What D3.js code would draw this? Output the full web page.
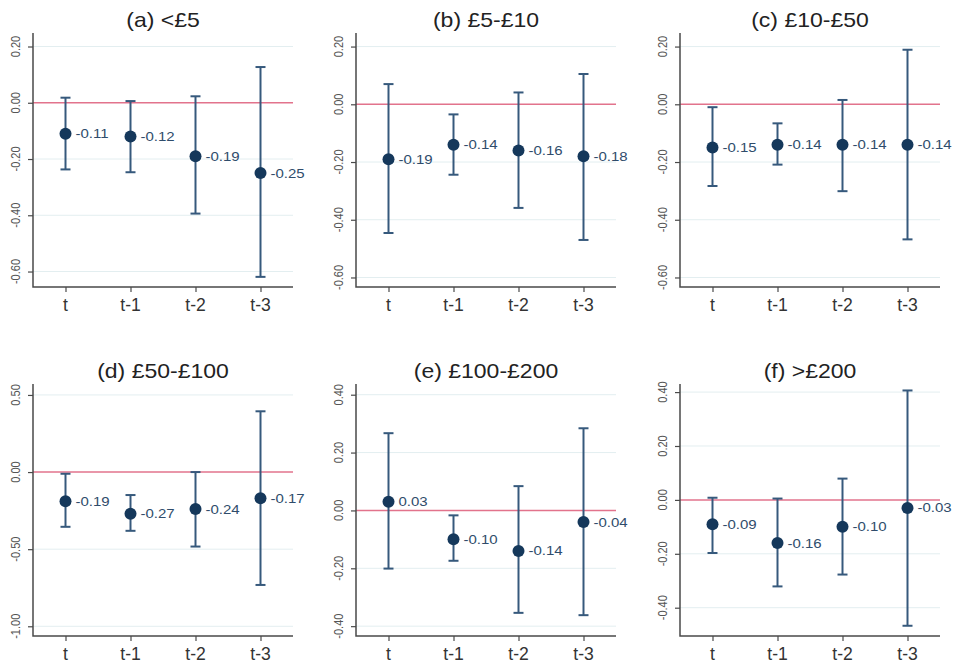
<!DOCTYPE html>
<meta charset="utf-8">
<head>
  <title>Coefficient plots by amount band</title>
</head>
<body>
<style>
  html, body {
    margin: 0;
    padding: 0;
    background: #fff;
  }
  svg text {
    font-family: "Liberation Sans", Arial, sans-serif;
  }
  .grid line {
    stroke: #e3eef0;
    stroke-width: 1px;
  }
  .zero {
    stroke: #e2738c;
    stroke-width: 1.5px;
  }
  .axis-line {
    stroke: #4a4a4a;
    stroke-width: 1.5px;
  }
  .bar {
    stroke: #36597c;
    stroke-width: 2px;
  }
  .dot {
    fill: #15385b;
  }
  .value {
    fill: #2f4c6b;
    font-size: 12.5px;
  }
  .title {
    fill: #222;
    font-size: 20px;
  }
  .xlabel {
    fill: #333;
    font-size: 16px;
  }
  .ylabel {
    fill: #555;
    font-size: 11px;
  }
</style>
<div id="chart"></div>
<script src="https://cdn.jsdelivr.net/npm/d3@7"></script>
<script>

(function() {

var categories = ["t", "t-1", "t-2", "t-3"];

var titles = ["(a) <£5", "(b) £5-£10", "(c) £10-£50",
              "(d) £50-£100", "(e) £100-£200", "(f) >£200"];

// point estimates, one array per panel
var estimates = [
  [-0.11, -0.12, -0.19, -0.25],
  [-0.19, -0.14, -0.16, -0.18],
  [-0.15, -0.14, -0.14, -0.14],
  [-0.19, -0.27, -0.24, -0.17],
  [0.03, -0.10, -0.14, -0.04],
  [-0.09, -0.16, -0.10, -0.03]
];

// lower and upper confidence bounds
var lower = [
  [-0.237, -0.247, -0.394, -0.619],
  [-0.446, -0.244, -0.359, -0.470],
  [-0.283, -0.209, -0.301, -0.468],
  [-0.355, -0.381, -0.483, -0.732],
  [-0.201, -0.174, -0.354, -0.362],
  [-0.197, -0.321, -0.277, -0.467]
];

var upper = [
  [0.018, 0.006, 0.023, 0.127],
  [0.070, -0.035, 0.041, 0.105],
  [-0.010, -0.066, 0.015, 0.189],
  [-0.011, -0.149, 0.0, 0.394],
  [0.267, -0.017, 0.084, 0.284],
  [0.008, 0.005, 0.079, 0.406]
];

var yTicks = [
  [0.2, 0, -0.2, -0.4, -0.6],
  [0.2, 0, -0.2, -0.4, -0.6],
  [0.2, 0, -0.2, -0.4, -0.6],
  [0.5, 0, -0.5, -1.0],
  [0.4, 0.2, 0, -0.2, -0.4],
  [0.4, 0.2, 0, -0.2, -0.4]
];

// axis ranges [bottom, top]
var yDomains = [
  [-0.655, 0.248],
  [-0.633, 0.247],
  [-0.633, 0.247],
  [-1.063, 0.571],
  [-0.434, 0.437],
  [-0.505, 0.430]
];

var width = 958,
    height = 666;

var colX = [33, 356, 680],
    plotW = 260,
    rows = [{top: 33, bottom: 287}, {top: 384, bottom: 636}];

// plain hyphen for negatives, like the original
function fmt(d) {
  return d.toFixed(2);
}

var svg = d3.select("#chart").append("svg")
    .attr("width", width)
    .attr("height", height);

titles.forEach(function(title, i) {
  var left = colX[i % 3],
      row = rows[Math.floor(i / 3)];

  var x = d3.scalePoint()
      .domain(categories)
      .range([left, left + plotW])
      .padding(0.5);

  var y = d3.scaleLinear()
      .domain(yDomains[i])
      .range([row.bottom, row.top]);

  var g = svg.append("g").attr("class", "panel");

  // gridlines
  g.append("g")
      .attr("class", "grid")
    .selectAll("line")
      .data(yTicks[i].filter(function(d) { return d !== 0; }))
    .enter().append("line")
      .attr("x1", left)
      .attr("x2", left + plotW)
      .attr("y1", function(d) { return y(d); })
      .attr("y2", function(d) { return y(d); });

  // reference line at zero
  g.append("line")
      .attr("class", "zero")
      .attr("x1", left)
      .attr("x2", left + plotW)
      .attr("y1", y(0))
      .attr("y2", y(0));

  // y axis
  var yAxis = g.append("g")
      .attr("transform", "translate(" + left + ",0)")
      .call(d3.axisLeft(y).tickValues(yTicks[i]).tickSize(5).tickFormat(""));
  yAxis.select(".domain").remove();
  yAxis.selectAll(".tick line").attr("stroke", "#4a4a4a").attr("stroke-width", 1.2);

  g.selectAll(".ylabel")
      .data(yTicks[i])
    .enter().append("text")
      .attr("class", "ylabel")
      .attr("text-anchor", "middle")
      .attr("transform", function(d) {
        return "translate(" + (left - 13) + "," + y(d) + ") scale(1.2,1) rotate(-90)";
      })
      .text(fmt);

  // x axis
  var xAxis = g.append("g")
      .attr("transform", "translate(0," + row.bottom + ")")
      .call(d3.axisBottom(x).tickSize(5).tickFormat(""));
  xAxis.select(".domain").remove();
  xAxis.selectAll(".tick line").attr("stroke", "#4a4a4a").attr("stroke-width", 1.2);

  g.selectAll(".xlabel")
      .data(categories)
    .enter().append("text")
      .attr("class", "xlabel")
      .attr("text-anchor", "middle")
      .attr("transform", function(d) {
        return "translate(" + x(d) + "," + (row.bottom + 24) + ") scale(1.1,1.2)";
      })
      .text(function(d) { return d; });

  g.append("path")
      .attr("class", "axis-line")
      .attr("fill", "none")
      .attr("d", "M" + left + "," + row.top + "V" + row.bottom + "H" + (left + plotW));

  // error bars
  var pts = categories.map(function(c, j) {
    return {cat: c, est: estimates[i][j], lo: lower[i][j], hi: upper[i][j]};
  });

  var bars = g.selectAll(".ci")
      .data(pts)
    .enter().append("g")
      .attr("class", "ci");

  bars.append("line")
      .attr("class", "bar")
      .attr("x1", function(d) { return x(d.cat); })
      .attr("x2", function(d) { return x(d.cat); })
      .attr("y1", function(d) { return y(d.lo); })
      .attr("y2", function(d) { return y(d.hi); });

  ["lo", "hi"].forEach(function(k) {
    bars.append("line")
        .attr("class", "bar")
        .attr("x1", function(d) { return x(d.cat) - 5; })
        .attr("x2", function(d) { return x(d.cat) + 5; })
        .attr("y1", function(d) { return y(d[k]); })
        .attr("y2", function(d) { return y(d[k]); });
  });

  bars.append("circle")
      .attr("class", "dot")
      .attr("cx", function(d) { return x(d.cat); })
      .attr("cy", function(d) { return y(d.est); })
      .attr("r", 6);

  bars.append("text")
      .attr("class", "value")
      .attr("transform", function(d) {
        return "translate(" + (x(d.cat) + 10) + "," + (y(d.est) + 4.5) + ") scale(1.2,1)";
      })
      .text(function(d) { return fmt(d.est); });

  // panel title
  g.append("text")
      .attr("class", "title")
      .attr("text-anchor", "middle")
      .attr("transform", "translate(" + (left + plotW / 2) + "," + (row.top - 6) + ") scale(1.15,1)")
      .text(title);
});

})();

</script>
</body>
